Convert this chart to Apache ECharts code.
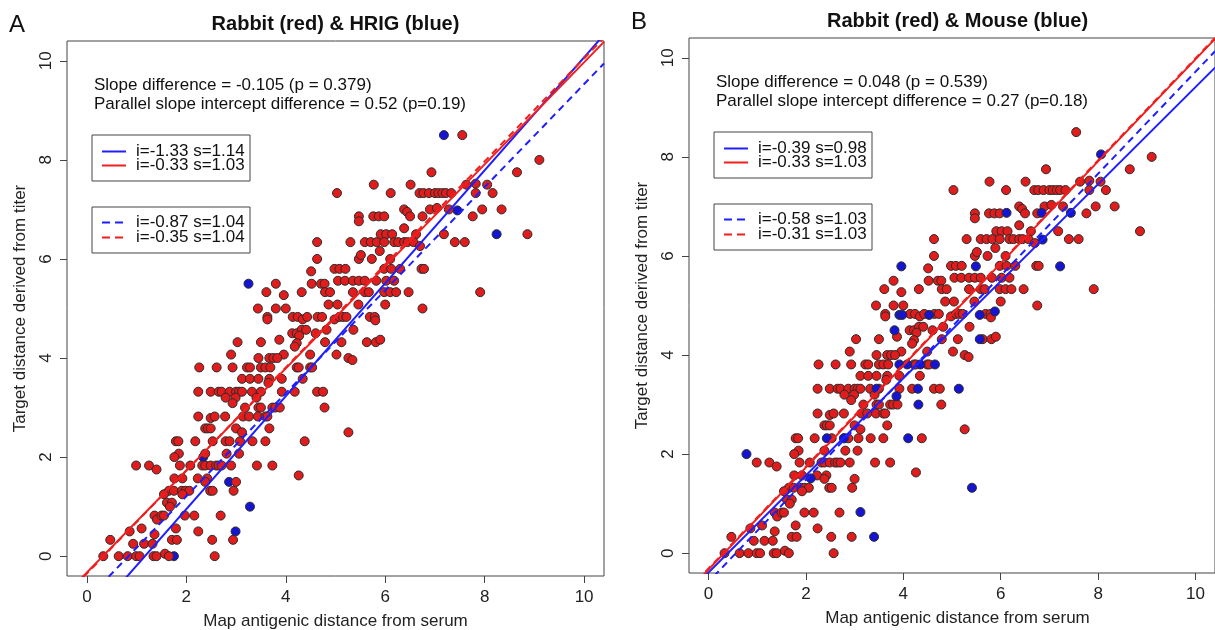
<!DOCTYPE html>
<html><head><meta charset="utf-8">
<script src="https://cdn.jsdelivr.net/npm/echarts@6/dist/echarts.min.js"></script>
<style>html,body{margin:0;padding:0;background:#fff;}#c{width:1215px;height:630px;}</style>
</head><body><div id="c"></div>
<script>
// ---------- data ----------
const tickValues = [0, 2, 4, 6, 8, 10];
const titles = ['Rabbit (red) & HRIG (blue)', 'Rabbit (red) & Mouse (blue)'];
const panelLetters = ['A', 'B'];
const xAxisName = 'Map antigenic distance from serum';
const yAxisName = 'Target distance derived from titer';
const statsA = ['Slope difference = -0.105 (p = 0.379)', 'Parallel slope intercept difference = 0.52 (p=0.19)'];
const statsB = ['Slope difference = 0.048 (p = 0.539)', 'Parallel slope intercept difference = 0.27 (p=0.18)'];
// fits order: blue solid, red solid, blue dashed, red dashed
const interceptsA = [-1.33, -0.33, -0.87, -0.35];
const slopesA = [1.14, 1.03, 1.04, 1.04];
const interceptsB = [-0.39, -0.33, -0.58, -0.31];
const slopesB = [0.98, 1.03, 1.03, 1.03];

const rabbit = [
[7.55,8.5],[9.1,8.0],[6.93,7.75],[8.65,7.75],
[5.77,7.5],[6.51,7.5],[7.63,7.5],[7.82,7.52],[8.05,7.5],
[5.03,7.33],[6.11,7.33],[6.69,7.33],[6.77,7.33],[6.88,7.33],[7.0,7.33],[7.07,7.33],[7.15,7.33],[7.22,7.33],[7.33,7.33],[7.82,7.33],[8.16,7.33],
[6.38,7.0],[6.44,6.95],[6.9,7.0],[7.04,7.03],[7.28,7.0],[7.95,7.0],[8.34,7.0],
[5.47,6.86],[5.47,6.76],[5.76,6.86],[5.87,6.86],[5.98,6.86],[6.5,6.86],[6.75,6.86],[7.76,6.86],
[6.38,6.62],
[5.91,6.5],[6.02,6.5],[6.14,6.5],[6.62,6.5],[7.18,6.5],[8.86,6.5],
[4.63,6.34],[5.3,6.34],[5.59,6.34],[5.71,6.34],[5.83,6.34],[5.98,6.34],[6.18,6.34],[6.26,6.34],[6.38,6.34],[6.45,6.34],[6.57,6.34],[6.7,6.26],[7.4,6.34],[7.6,6.34],
[5.89,6.16],
[4.63,6.0],[5.47,6.0],[5.51,6.08],[5.73,6.0],[6.1,6.0],
[4.51,5.75],[4.98,5.8],[5.08,5.8],[5.2,5.8],[5.98,5.8],[6.12,5.8],[6.3,5.8],[6.73,5.8],[6.78,5.8],
[5.05,5.56],[5.19,5.56],[5.35,5.56],[5.47,5.56],[5.59,5.56],[5.82,5.56],[6.02,5.56],[6.18,5.56],
[3.8,5.5],[4.52,5.5],[4.71,5.5],[4.78,5.5],
[3.61,5.33],[3.96,5.27],[4.32,5.33],[4.79,5.33],[4.89,5.33],[5.35,5.33],[5.59,5.33],[5.67,5.33],[5.98,5.33],[6.1,5.33],[6.22,5.33],[6.47,5.33],[7.91,5.33],
[3.44,5.0],[3.8,5.0],[4.0,5.0],[6.75,5.0],[4.86,5.08],[5.04,5.08],[5.46,5.08],[6.0,5.08],
[3.63,4.83],[3.63,4.78],[4.14,4.83],[4.24,4.83],[4.34,4.78],[4.43,4.83],[4.64,4.83],[4.73,4.83],[4.98,4.78],[5.08,4.83],[5.15,4.83],[5.22,4.83],[5.69,4.83],[5.79,4.83],[5.8,4.76],
[4.13,4.5],[4.22,4.5],[4.32,4.57],[4.41,4.57],[4.27,4.45],[4.6,4.5],[4.82,4.57],[5.36,4.57],
[3.03,4.32],[3.5,4.32],[3.87,4.37],[4.22,4.3],[4.18,4.23],[4.79,4.32],[5.12,4.32],[5.63,4.32],[5.81,4.32],[5.9,4.37],
[2.9,4.07],[3.96,4.07],[4.49,4.07],[5.02,4.07],
[3.45,4.0],[3.67,4.0],[3.75,4.0],[3.83,4.0],[5.26,4.0],[5.34,3.96],
[2.26,3.81],[2.61,3.81],[2.93,3.81],[3.22,3.81],[3.28,3.81],[3.5,3.81],[3.59,3.81],[3.69,3.81],[4.22,3.81],[4.26,3.81],[4.49,3.81],[4.53,3.81],
[3.12,3.58],[3.28,3.58],[3.45,3.58],[3.67,3.58],[3.92,3.58],[4.34,3.58],[3.65,3.5],
[2.24,3.32],[2.49,3.32],[2.65,3.32],[2.71,3.32],[2.87,3.32],[3.0,3.32],[3.06,3.32],[3.12,3.32],[3.32,3.32],[3.5,3.32],[3.92,3.32],[4.18,3.32],[4.63,3.32],[4.75,3.32],
[2.79,3.2],[2.99,3.2],[3.41,3.2],[2.93,3.09],
[3.18,3.0],[3.45,3.0],[3.5,3.0],[3.73,3.0],[3.79,3.0],[3.88,3.0],[4.78,3.0],
[2.24,2.82],[2.49,2.79],[2.57,2.82],[2.78,2.82],[3.14,2.82],[3.26,2.82],[3.44,2.82],[3.59,2.82],[3.63,2.82],
[2.38,2.58],[2.43,2.58],[2.49,2.58],[3.0,2.58],[3.67,2.58],
[3.12,2.5],[5.26,2.5],
[1.79,2.32],[1.84,2.32],[2.18,2.32],[2.53,2.32],[2.79,2.32],[2.87,2.32],[3.08,2.32],[3.33,2.32],[3.59,2.32],[4.38,2.32],
[1.85,2.07],[2.38,2.07],[2.81,2.07],[3.06,2.07],[1.76,2.0],
[0.99,1.83],[1.25,1.83],[1.4,1.75],[1.87,1.83],[2.08,1.83],[2.32,1.83],[2.38,1.83],[2.49,1.83],[2.6,1.83],[2.65,1.83],[2.71,1.83],[2.9,1.83],[3.42,1.83],[3.73,1.83],
[4.26,1.63],
[1.76,1.57],[1.92,1.57],[2.23,1.57],[2.42,1.57],
[2.38,1.5],[3.0,1.5],
[1.65,1.32],[1.75,1.32],[1.91,1.32],[1.98,1.32],[2.06,1.32],[2.48,1.32],[2.53,1.32],[2.95,1.32],
[1.55,1.25],[1.92,1.25],
[1.61,1.08],[1.71,1.08],[1.67,1.0],
[1.36,0.82],[1.41,0.74],[1.5,0.82],[1.55,0.82],[1.97,0.82],[2.16,0.82],[2.69,0.82],
[1.1,0.56],[1.79,0.56],
[0.86,0.5],[2.24,0.5],[1.36,0.44],
[0.47,0.33],[1.71,0.33],[1.81,0.33],[2.52,0.33],[2.94,0.33],
[0.93,0.25],[1.15,0.25],[1.32,0.25],
[0.33,0.0],[0.64,0.0],[0.82,0.0],[0.99,0.0],[1.06,0.0],[1.34,0.0],[1.4,0.0],[1.57,0.05],[1.65,0.0],[2.57,0.0]
];

const hrig = [
[7.18,8.5],[7.45,6.98],[8.24,6.5],[3.25,5.5],[2.34,2.0],[2.86,1.5],[3.28,1.0],[2.99,0.5],[1.75,0.0]
];

const mouse = [
[8.06,8.05],[7.44,6.87],[6.12,6.87],[6.84,6.87],[6.86,6.33],[3.96,5.79],[5.49,5.79],[7.22,5.79],
[3.92,4.81],[3.98,4.81],[4.53,4.81],[5.57,4.81],[5.88,4.88],[3.82,4.5],[5.57,4.32],
[3.92,3.81],[4.08,3.81],[4.35,3.81],[4.65,3.81],[3.45,3.32],[4.3,3.32],[5.14,3.32],[3.86,3.17],[4.31,3.0],
[2.43,2.32],[2.78,2.32],[4.1,2.32],[0.78,2.0],[2.1,1.51],[5.41,1.32],[3.12,0.83],[3.4,0.33]
];

// ---------- layout ----------
const X0 = -0.4, X1 = 10.4;
const FONT = '"Liberation Sans", Arial, sans-serif';
const offsets = [[0, 0], [622, -3]];
const gridBoxes = [{left: 67, top: 41}, {left: 689, top: 38}];
const RED = '#f01e1e', BLUE = '#1e1eff';
const lineColors = [BLUE, RED, BLUE, RED];
const lineDash = ['solid', 'solid', [7, 5], [7, 5]];

const chart = echarts.init(document.getElementById('c'), null, {renderer: 'canvas'});

const grids = [], xAxes = [], yAxes = [], series = [], graphics = [];

function axisCommon(k, isY) {
  return {
    gridIndex: k, type: 'value', min: X0, max: X1,
    position: isY ? 'left' : 'bottom',
    axisLine: {show: false, onZero: false},
    axisTick: {show: true, customValues: tickValues, length: 7, inside: false, lineStyle: {color: '#444', width: 1}},
    axisLabel: {show: true, customValues: tickValues, fontSize: 17, fontFamily: FONT, color: '#222',
      margin: isY ? 12 : 13, rotate: isY ? 90 : 0},
    splitLine: {show: false}
  };
}

function scatter(k, data, fill, z) {
  return {
    type: 'scatter', xAxisIndex: k, yAxisIndex: k, data: data, z: z,
    symbol: 'circle', symbolSize: 9, silent: true, animation: false,
    itemStyle: {color: fill, borderColor: '#2b2b2b', borderWidth: 1, opacity: 1}
  };
}

[0, 1].forEach(k => {
  const g = gridBoxes[k];
  grids.push({left: g.left, top: g.top, width: 537, height: 535, show: true,
    borderColor: '#444', borderWidth: 1, backgroundColor: 'transparent', containLabel: false});
  xAxes.push(axisCommon(k, false));
  yAxes.push(axisCommon(k, true));

  const ints = k === 0 ? interceptsA : interceptsB;
  const slps = k === 0 ? slopesA : slopesB;
  const blueData = k === 0 ? hrig : mouse;

  if (k === 0) {
    series.push(scatter(k, blueData, '#1414d2', 3));
    series.push(scatter(k, rabbit, '#e01c1c', 4));
  } else {
    series.push(scatter(k, rabbit, '#e01c1c', 3));
    series.push(scatter(k, blueData, '#1414d2', 4));
  }
  for (let j = 0; j < 4; j++) {
    series.push({
      type: 'line', xAxisIndex: k, yAxisIndex: k, z: 6, clip: true, silent: true, animation: false,
      symbol: 'none', showSymbol: false,
      data: [[X0, ints[j] + slps[j] * X0], [X1, ints[j] + slps[j] * X1]],
      lineStyle: {color: lineColors[j], width: 2, type: lineDash[j]}
    });
  }

  const [dx, dy] = offsets[k];
  const stats = k === 0 ? statsA : statsB;
  graphics.push({type: 'text', x: 9 + dx, y: 25 + dy, z: 10,
    style: {text: panelLetters[k], fontSize: 24, fontFamily: FONT, fill: '#111', align: 'left', verticalAlign: 'middle'}});
  graphics.push({type: 'text', x: 335.5 + dx, y: 24 + dy, z: 10,
    style: {text: titles[k], fontSize: 20, fontWeight: 'bold', fontFamily: FONT, fill: '#111', align: 'center', verticalAlign: 'middle'}});
  graphics.push({type: 'text', x: 335.5 + dx, y: 621 + dy, z: 10,
    style: {text: xAxisName, fontSize: 17, fontFamily: FONT, fill: '#222', align: 'center', verticalAlign: 'middle'}});
  graphics.push({type: 'text', x: 20 + dx, y: 308.5 + dy, z: 10, rotation: Math.PI / 2,
    style: {text: yAxisName, fontSize: 17, fontFamily: FONT, fill: '#222', align: 'center', verticalAlign: 'middle'}});
  graphics.push({type: 'text', x: 94 + dx, y: 85 + dy, z: 10,
    style: {text: stats[0], fontSize: 17, fontFamily: FONT, fill: '#111', align: 'left', verticalAlign: 'middle'}});
  graphics.push({type: 'text', x: 94 + dx, y: 104.5 + dy, z: 10,
    style: {text: stats[1], fontSize: 17, fontFamily: FONT, fill: '#111', align: 'left', verticalAlign: 'middle'}});
  const boxTops = [135, 207];
  const rowYs = [[151.5, 165.5], [222.5, 237.5]];
  for (let b = 0; b < 2; b++) {
    graphics.push({type: 'rect', z: 10, shape: {x: 92 + dx, y: boxTops[b] + dy, width: 158, height: 46},
      style: {fill: '#fff', stroke: '#444', lineWidth: 1}});
    for (let r = 0; r < 2; r++) {
      const j = b * 2 + r;
      graphics.push({type: 'line', z: 11,
        shape: {x1: 102 + dx, y1: rowYs[b][r] + dy, x2: 126 + dx, y2: rowYs[b][r] + dy},
        style: {stroke: lineColors[j], lineWidth: 2, lineDash: b === 0 ? null : [8, 5]}});
      graphics.push({type: 'text', z: 11, x: 136 + dx, y: rowYs[b][r] + dy,
        style: {text: 'i=' + ints[j].toFixed(2) + ' s=' + slps[j].toFixed(2), fontSize: 17, fontFamily: FONT,
          fill: '#111', align: 'left', verticalAlign: 'middle'}});
    }
  }
});

chart.setOption({
  animation: false,
  backgroundColor: '#fff',
  grid: grids, xAxis: xAxes, yAxis: yAxes, series: series, graphic: graphics
});
</script>
</body></html>
